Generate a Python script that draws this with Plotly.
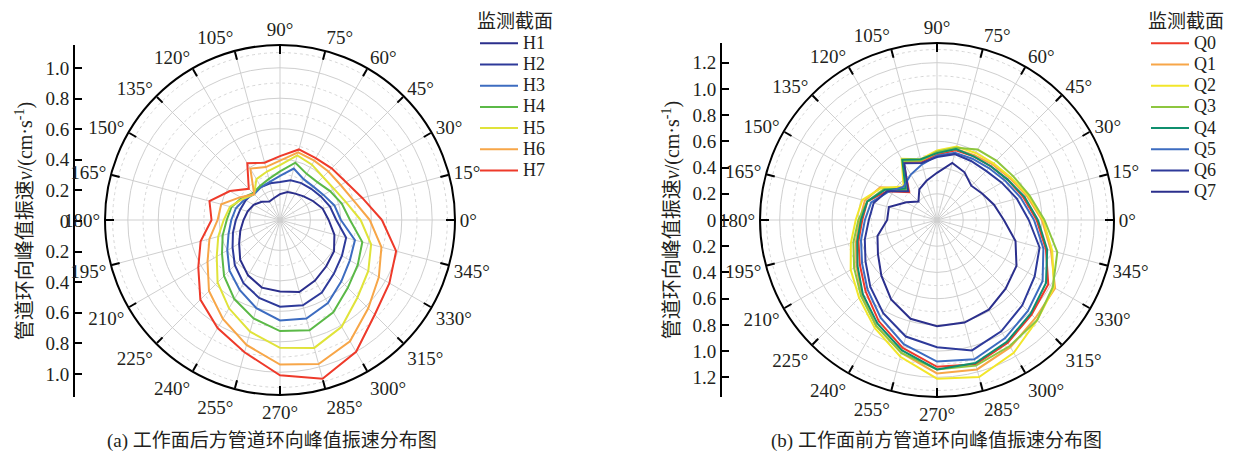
import numpy as np
import plotly.graph_objects as go

W, H = 1239, 458
FONT = "Liberation Serif, Noto Sans CJK SC, serif"
TXT = "#231f20"

angles = list(range(0, 360, 15))

# (a) sections behind the working face
H_names = ["H1", "H2", "H3", "H4", "H5", "H6", "H7"]
H1 = [0.32, 0.29, 0.25, 0.22, 0.20, 0.19, 0.17, 0.15, 0.14, 0.17, 0.20, 0.22, 0.24, 0.27, 0.31, 0.37, 0.42, 0.46, 0.47, 0.49, 0.46, 0.43, 0.41, 0.37]
H2 = [0.37, 0.34, 0.31, 0.29, 0.28, 0.27, 0.25, 0.25, 0.25, 0.25, 0.26, 0.27, 0.29, 0.32, 0.36, 0.42, 0.48, 0.53, 0.57, 0.58, 0.55, 0.50, 0.47, 0.45]
H3 = [0.40, 0.37, 0.33, 0.31, 0.31, 0.35, 0.29, 0.26, 0.25, 0.24, 0.27, 0.30, 0.32, 0.35, 0.40, 0.47, 0.53, 0.60, 0.66, 0.67, 0.63, 0.57, 0.53, 0.51]
H4 = [0.46, 0.42, 0.38, 0.35, 0.35, 0.39, 0.32, 0.28, 0.26, 0.25, 0.29, 0.33, 0.35, 0.39, 0.44, 0.52, 0.60, 0.67, 0.73, 0.75, 0.70, 0.63, 0.59, 0.56]
H5 = [0.53, 0.45, 0.41, 0.40, 0.42, 0.44, 0.36, 0.33, 0.31, 0.24, 0.28, 0.34, 0.37, 0.42, 0.48, 0.58, 0.67, 0.76, 0.84, 0.87, 0.81, 0.72, 0.67, 0.62]
H6 = [0.59, 0.50, 0.46, 0.45, 0.45, 0.46, 0.39, 0.36, 0.39, 0.24, 0.30, 0.40, 0.41, 0.48, 0.55, 0.66, 0.75, 0.85, 0.95, 0.98, 0.92, 0.82, 0.75, 0.69]
H7 = [0.67, 0.56, 0.50, 0.48, 0.47, 0.48, 0.42, 0.39, 0.43, 0.29, 0.38, 0.48, 0.45, 0.54, 0.62, 0.74, 0.82, 0.90, 1.02, 1.08, 1.00, 0.88, 0.83, 0.79]
H_colors = ["#2b2f8c", "#2e3a9a", "#3d6cc0", "#5bb947", "#e0e33a", "#f7a648", "#ee3a2a"]

# (b) sections ahead of the working face
Q_names = ["Q0", "Q1", "Q2", "Q3", "Q4", "Q5", "Q6", "Q7"]
Q0 = [0.76, 0.68, 0.62, 0.58, 0.56, 0.55, 0.50, 0.46, 0.51, 0.30, 0.44, 0.55, 0.57, 0.62, 0.68, 0.77, 0.89, 1.01, 1.12, 1.14, 1.08, 1.02, 0.98, 0.86]
Q1 = [0.80, 0.71, 0.64, 0.60, 0.57, 0.56, 0.51, 0.47, 0.52, 0.34, 0.50, 0.57, 0.59, 0.64, 0.71, 0.81, 0.93, 1.05, 1.17, 1.18, 1.12, 1.06, 1.04, 0.90]
Q2 = [0.81, 0.72, 0.65, 0.61, 0.59, 0.58, 0.53, 0.48, 0.54, 0.36, 0.49, 0.59, 0.62, 0.68, 0.76, 0.84, 0.95, 1.08, 1.21, 1.24, 1.17, 1.08, 1.03, 0.91]
Q3 = [0.82, 0.73, 0.67, 0.64, 0.62, 0.57, 0.52, 0.47, 0.52, 0.32, 0.47, 0.55, 0.60, 0.66, 0.73, 0.82, 0.93, 1.05, 1.14, 1.15, 1.11, 1.08, 1.02, 0.95]
Q4 = [0.77, 0.69, 0.62, 0.58, 0.56, 0.56, 0.51, 0.48, 0.53, 0.34, 0.46, 0.55, 0.58, 0.63, 0.70, 0.80, 0.91, 1.03, 1.14, 1.13, 1.07, 1.01, 0.96, 0.87]
Q5 = [0.74, 0.66, 0.60, 0.56, 0.54, 0.53, 0.49, 0.44, 0.40, 0.36, 0.43, 0.52, 0.55, 0.60, 0.66, 0.75, 0.86, 0.98, 1.08, 1.10, 1.04, 0.98, 0.93, 0.84]
Q6 = [0.70, 0.63, 0.57, 0.53, 0.52, 0.52, 0.48, 0.45, 0.50, 0.31, 0.44, 0.50, 0.52, 0.57, 0.63, 0.72, 0.82, 0.92, 0.97, 1.03, 0.98, 0.92, 0.86, 0.81]
Q7 = [0.51, 0.45, 0.40, 0.37, 0.42, 0.45, 0.36, 0.31, 0.27, 0.20, 0.27, 0.38, 0.38, 0.47, 0.52, 0.60, 0.70, 0.78, 0.81, 0.81, 0.79, 0.74, 0.70, 0.62]
Q_colors = ["#ee3a2a", "#f7a648", "#f2e62a", "#8dc63f", "#0f8f6e", "#3d6cc0", "#2e3a9a", "#2b2f8c"]

left_ticks = [1.0, 0.8, 0.6, 0.4, 0.2, 0, 0.2, 0.4, 0.6, 0.8, 1.0]
right_ticks = [1.2, 1.0, 0.8, 0.6, 0.4, 0.2, 0, 0.2, 0.4, 0.6, 0.8, 1.0, 1.2]

captions = ["(a) 工作面后方管道环向峰值振速分布图", "(b) 工作面前方管道环向峰值振速分布图"]
ytitle = "管道环向峰值振速<i>v</i>/(cm·s<sup>-1</sup>)"
legend_title = "监测截面"

R1, R2 = 1.15, 1.35

fig = go.Figure()

theta_c = angles + [360]


def px_x(v):
    return v / W


def px_y(v):
    return 1 - v / H


def big(name):
    return f'<span style="font-size:18px">{name}</span>'


# dotted minor grid circles
for sub, rmax in (("polar", R1), ("polar2", R2)):
    tt = np.linspace(0, 360, 361)
    for rv in np.arange(0.1, rmax, 0.2):
        fig.add_trace(go.Scatterpolar(r=[rv] * len(tt), theta=tt, mode="lines",
                                      line=dict(color="#d6d6d6", width=1, dash="dot"),
                                      showlegend=False, hoverinfo="skip", subplot=sub))

for name, vals, col in zip(H_names, [H1, H2, H3, H4, H5, H6, H7], H_colors):
    fig.add_trace(go.Scatterpolar(r=vals + vals[:1], theta=theta_c, mode="lines", name=big(name),
                                  line=dict(color=col, width=2), subplot="polar", legend="legend"))

for name, vals, col in zip(Q_names, [Q0, Q1, Q2, Q3, Q4, Q5, Q6, Q7], Q_colors):
    fig.add_trace(go.Scatterpolar(r=vals + vals[:1], theta=theta_c, mode="lines", name=big(name),
                                  line=dict(color=col, width=2), subplot="polar2", legend="legend2"))

# dummy traces so the cartesian (radius) axes render
fig.add_trace(go.Scatter(x=[None], y=[None], xaxis="x", yaxis="y", showlegend=False, hoverinfo="skip"))
fig.add_trace(go.Scatter(x=[None], y=[None], xaxis="x2", yaxis="y2", showlegend=False, hoverinfo="skip"))


def polar_cfg(cx, cy, rad, rmax):
    return dict(
        domain=dict(x=[px_x(cx - rad), px_x(cx + rad)], y=[px_y(cy + rad), px_y(cy - rad)]),
        bgcolor="white",
        radialaxis=dict(range=[0, rmax], dtick=0.2, showticklabels=False, ticks="", showline=False,
                        gridcolor="#cfcfcf", gridwidth=1),
        angularaxis=dict(rotation=0, direction="counterclockwise", dtick=15, ticks="inside",
                         ticklen=8, tickwidth=2, tickcolor="black", linecolor="black", linewidth=2,
                         gridcolor="#cfcfcf", gridwidth=1,
                         tickfont=dict(size=19, family=FONT, color=TXT)),
    )


def yaxis_cfg(xpos, top, bot, rmax, labels):
    half = len(labels) // 2
    vals = [abs(v) if i <= half else -abs(v) for i, v in enumerate(labels)]
    return dict(domain=[px_y(bot), px_y(top)], range=[-rmax, rmax], anchor="free", position=px_x(xpos),
                tickvals=vals, ticktext=[f"{v:.1f}" if v != 0 else "0" for v in labels],
                ticks="inside", ticklen=7, tickwidth=2, tickcolor="black",
                showline=True, linewidth=2, linecolor="black", showgrid=False, zeroline=False,
                tickfont=dict(size=19, family=FONT, color=TXT),
                title=dict(text=ytitle, font=dict(size=20, family=FONT, color=TXT), standoff=6))


def legend_cfg(x):
    return dict(x=px_x(x), y=px_y(3), xanchor="left", yanchor="top", bgcolor="rgba(0,0,0,0)",
                title=dict(text=legend_title, font=dict(size=19, family=FONT)),
                font=dict(size=14, family=FONT, color=TXT), tracegroupgap=0, itemwidth=38)


fig.update_layout(
    width=W, height=H, margin=dict(l=0, r=0, t=0, b=0),
    paper_bgcolor="white", plot_bgcolor="rgba(0,0,0,0)",
    font=dict(family=FONT, color=TXT, size=17),
    polar=polar_cfg(280, 220, 175, R1),
    polar2=polar_cfg(937, 220, 177, R2),
    xaxis=dict(domain=[0.06, 0.07], visible=False, anchor="y"),
    yaxis=yaxis_cfg(74, 45, 397, R1, left_ticks),
    xaxis2=dict(domain=[0.58, 0.59], visible=False, anchor="y2"),
    yaxis2=yaxis_cfg(721, 43, 397, R2, right_ticks),
    legend=legend_cfg(475),
    legend2=legend_cfg(1146),
    annotations=[
        dict(text=captions[0], x=px_x(272), y=px_y(441), xref="paper", yref="paper", showarrow=False,
             xanchor="center", yanchor="middle", font=dict(size=19, family=FONT, color=TXT)),
        dict(text=captions[1], x=px_x(936), y=px_y(441), xref="paper", yref="paper", showarrow=False,
             xanchor="center", yanchor="middle", font=dict(size=19, family=FONT, color=TXT)),
    ],
)

fig.write_html("out.html", config={"displayModeBar": False},
               post_script="document.body.style.margin='0px';")
